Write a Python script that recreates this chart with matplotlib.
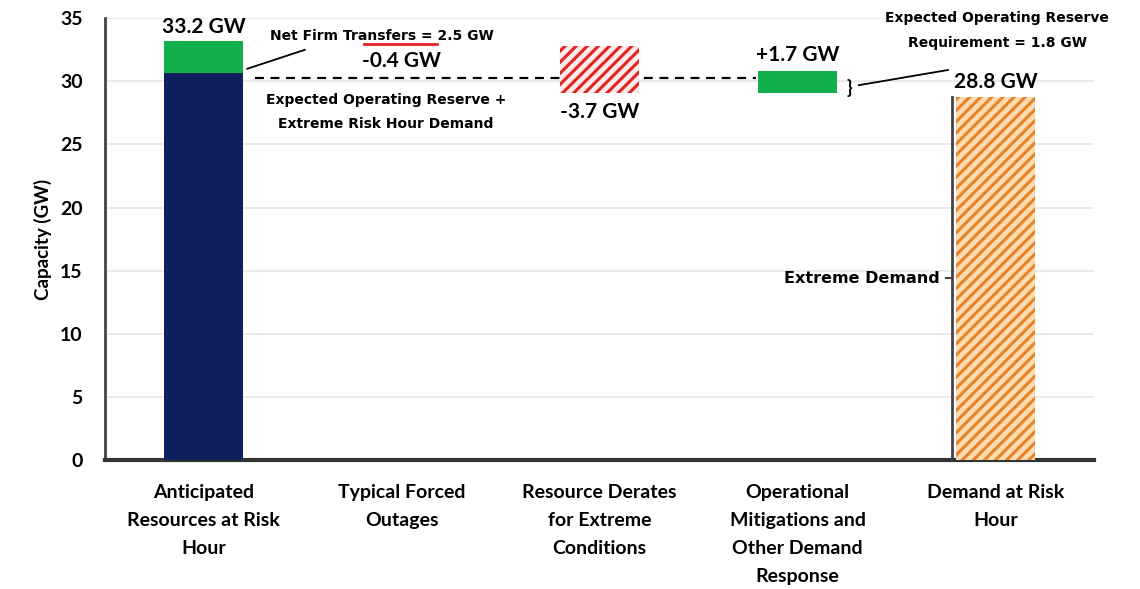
import matplotlib.pyplot as plt

plt.rcParams['font.family'] = ['Lato', 'DejaVu Sans']
plt.rcParams['font.weight'] = 'bold'
plt.rcParams['hatch.linewidth'] = 2.2

categories = ['Anticipated\nResources at Risk\nHour', 'Typical Forced\nOutages',
              'Resource Derates\nfor Extreme\nConditions',
              'Operational\nMitigations and\nOther Demand\nResponse',
              'Demand at Risk\nHour']
anticipated = 33.2
net_firm = 2.5
changes = [-0.4, -3.7, 1.7]
demand = 28.8
reserve_req = 1.8
reserve_plus_demand = 30.3
yticks = [0, 5, 10, 15, 20, 25, 30, 35]

small = dict(family='DejaVu Sans', fontweight='bold', fontsize=10)

fig = plt.figure(figsize=(11.4, 5.89), dpi=100)
ax = fig.add_axes([0.092, 0.219, 0.868, 0.75])
x = list(range(len(categories)))
w = 0.4

# bar 1: own resources + net firm transfers
ax.bar(x[0], anticipated - net_firm, w, color='#0d1f5c', zorder=3)
ax.bar(x[0], net_firm, w, bottom=anticipated - net_firm, color='#12b04c', zorder=3)

# floating steps
level = anticipated
tops = []
for c in changes:
    tops.append((level, level + c))
    level += c
# typical forced outages (-0.4) is too thin to show in the original
lo, hi = sorted(tops[1])
ax.bar(x[2], hi - lo, w, bottom=lo, color='#fdeaea', edgecolor='#e32222',
       hatch='///', linewidth=0, zorder=3)
lo, hi = sorted(tops[2])
ax.bar(x[3], hi - lo, w, bottom=lo, color='#12b04c', zorder=3)

# demand
ax.bar(x[4], demand, w, color='#fcdcae', edgecolor='#e5832b', hatch='///',
       linewidth=0, zorder=3)

ax.hlines(reserve_plus_demand, 0.26, 2.79, colors='black', linestyles=(0, (4, 3)),
          linewidth=1.6, zorder=2)

ax.set_xlim(-0.5, 4.5)
ax.set_ylim(0, 35)
ax.set_yticks(yticks)
ax.set_xticks(x)
ax.set_xticklabels(categories, fontsize=14, linespacing=1.8)
ax.tick_params(axis='both', length=0, labelsize=14)
ax.tick_params(axis='x', pad=17)
ax.tick_params(axis='y', pad=16)
ax.grid(axis='y', color='#e6e6e6', linewidth=1.2, zorder=0)
for s in ['top', 'right']:
    ax.spines[s].set_visible(False)
ax.spines['left'].set_color('#444444')
ax.spines['left'].set_linewidth(2)
ax.spines['bottom'].set_color('#333333')
ax.spines['bottom'].set_linewidth(3)
ax.set_ylabel('Capacity (GW)', fontsize=13.5, fontweight='bold', labelpad=6)

# labels
ax.text(x[0], anticipated + 0.35, '33.2 GW', ha='center', va='bottom', fontsize=15)
ax.text(x[1] - 0.1, 33.6, 'Net Firm Transfers = 2.5 GW', ha='center', va='center', **small)
ax.plot([0.22, 0.51], [31.0, 32.5], color='black', linewidth=1.3)
ax.plot([x[1] - 0.19, x[1] + 0.18], [32.95, 32.95], color='#e32222', linewidth=2)
ax.text(x[1], 31.6, '-0.4 GW', ha='center', va='center', fontsize=15)
ax.text(x[1] - 0.08, 27.6, 'Expected Operating Reserve +\nExtreme Risk Hour Demand',
        ha='center', va='center', linespacing=1.9, **small)
ax.text(x[2], 27.6, '-3.7 GW', ha='center', va='center', fontsize=15)
ax.text(x[3], 32.1, '+1.7 GW', ha='center', va='center', fontsize=15)
ax.text(x[3] + 0.26, 29.5, '}', ha='center', va='center', fontsize=13)
ax.plot([x[3] + 0.31, x[3] + 0.76], [29.7, 30.9], color='black', linewidth=1.3)
ax.text(x[4] + 0.01, 34.0, 'Expected Operating Reserve\nRequirement = 1.8 GW',
        ha='center', va='center', linespacing=2.0, **small)
ax.text(x[4], demand + 0.35, '28.8 GW', ha='center', va='bottom', fontsize=15)

# extreme demand bracket
bx = x[4] - 0.22
ax.plot([bx, bx], [0, demand], color='#444444', linewidth=2, zorder=4)
ax.plot([bx - 0.03, bx], [14.4, 14.4], color='#444444', linewidth=1.5, zorder=4)
ax.text(bx - 0.06, 14.4, 'Extreme Demand', ha='right', va='center',
        family='DejaVu Sans', fontweight='bold', fontsize=11.5)

plt.savefig('out.png')
